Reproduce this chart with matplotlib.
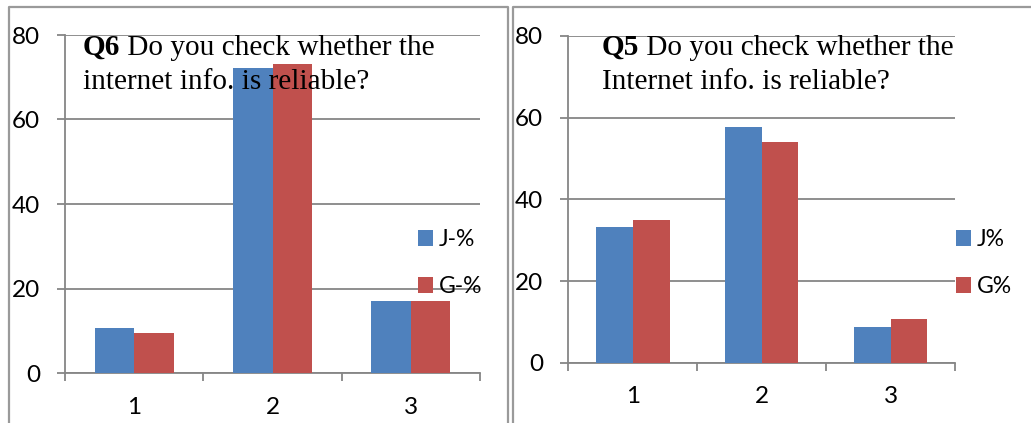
import matplotlib
matplotlib.use("Agg")
import matplotlib.pyplot as plt
from matplotlib.lines import Line2D
import numpy as np

categories = ["1", "2", "3"]
q6_j = [10.7, 72.1, 17.0]
q6_g = [9.5, 73.1, 17.1]
q5_j = [33.2, 57.8, 8.7]
q5_g = [35.0, 54.0, 10.7]
q6_labels = ["J-%", "G-%"]
q5_labels = ["J%", "G%"]
yticks = [0, 20, 40, 60, 80]

W, H = 1031, 423
BLUE = "#4F81BD"
RED = "#C0504D"
GRID = "#868686"
SANS = "Lato"
SERIF = "Liberation Serif"
TFS = 21.1

fig = plt.figure(figsize=(W / 100, H / 100), dpi=100)
fig.patch.set_facecolor("white")


def fx(px):
    return px / W


def fy(py):
    return 1 - py / H


# panel frames
def frame_line(xs, ys):
    fig.add_artist(Line2D([fx(x) for x in xs], [fy(y) for y in ys],
                          transform=fig.transFigure, color="#9a9a9a", lw=1.6))

frame_line([8.5, 8.5, 507.5, 507.5], [430, 7.5, 7.5, 430])
frame_line([512.5, 512.5, 1040], [430, 7.5, 7.5])


def make_panel(left, right, top, bottom, jv, gv, labels, leg_x, leg_top,
               title_bold, title_rest, title_line2, tx, ty1, ty2):
    ax = fig.add_axes([fx(left), fy(bottom), fx(right - left), (bottom - top) / H])
    x = np.arange(1, len(categories) + 1)
    w = 1 / 3.5
    b1 = ax.bar(x - w / 2, jv, w, color=BLUE, label=labels[0], zorder=3)
    b2 = ax.bar(x + w / 2, gv, w, color=RED, label=labels[1], zorder=3)
    ax.set_xlim(0.5, 3.5)
    ax.set_ylim(0, 80)
    ax.set_yticks(yticks)
    ax.set_yticklabels([str(v) for v in yticks], fontfamily=SANS, fontsize=17.5)
    ax.yaxis.grid(True, color=GRID, lw=1.3, zorder=0)
    ax.set_axisbelow(True)
    ax.set_xticks([0.5, 1.5, 2.5, 3.5])
    ax.set_xticklabels([])
    ax.set_xticks(x, minor=True)
    ax.set_xticklabels(categories, minor=True, fontfamily=SANS, fontsize=17.5)
    ax.tick_params(axis="x", which="major", length=6, width=1.3, color=GRID, direction="out")
    ax.tick_params(axis="x", which="minor", length=0, pad=17)
    ax.tick_params(axis="y", length=6, width=1.3, color=GRID, pad=12)
    for s in ["top", "right"]:
        ax.spines[s].set_visible(False)
    for s in ["left", "bottom"]:
        ax.spines[s].set_color(GRID)
        ax.spines[s].set_linewidth(1.3)
    ax.patch.set_alpha(0)

    fig.legend(handles=[b1, b2], loc="upper left",
               bbox_to_anchor=(fx(leg_x), fy(leg_top)),
               bbox_transform=fig.transFigure, frameon=False,
               prop={"family": SANS, "size": 16.5},
               handlelength=0.66, handleheight=0.66, handletextpad=0.25,
               labelspacing=1.13, borderpad=0, borderaxespad=0)

    t1 = fig.text(fx(tx), fy(ty1), title_bold, fontfamily=SERIF, fontsize=TFS,
                  fontweight="bold", va="baseline", ha="left", zorder=10)
    ax.annotate(title_rest, xy=(1, 0), xycoords=t1, va="bottom", ha="left",
                fontfamily=SERIF, fontsize=TFS, annotation_clip=False, zorder=10)
    fig.text(fx(tx), fy(ty2), title_line2, fontfamily=SERIF, fontsize=TFS,
             va="baseline", ha="left", zorder=10)
    return ax


make_panel(65, 480, 35, 373, q6_j, q6_g, q6_labels, 418, 229,
           "Q6", " Do you check whether the", "internet info. is reliable?",
           83, 55, 89)
make_panel(568.3, 955, 36, 362.7, q5_j, q5_g, q5_labels, 956, 229,
           "Q5", " Do you check whether the", "Internet info. is reliable?",
           602, 55, 89)

fig.savefig("out.png", dpi=100, facecolor="white")
